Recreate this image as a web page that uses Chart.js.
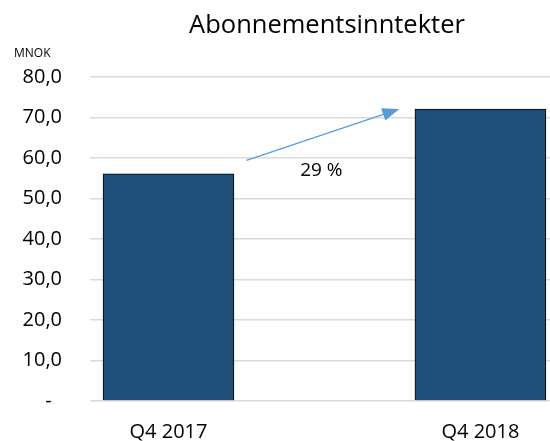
<!DOCTYPE html>
<html>
<head>
<meta charset="utf-8">
<script src="https://cdn.jsdelivr.net/npm/chart.js@4.4.1/dist/chart.umd.min.js"></script>
<style>
  body { margin: 0; background: #fff; }
  #grafico { display: block; }
</style>
</head>
<body>
<canvas id="grafico" width="550" height="441"></canvas>
<script>
// data
const categorias = ['Q4 2017', 'Q4 2018']
const valores = [56.1, 72.1]
const ticksY = [0, 10, 20, 30, 40, 50, 60, 70, 80]
const titulo = 'Abonnementsinntekter'
const unidad = 'MNOK'

const fuente = "'Open Sans', 'Noto Sans', sans-serif"

// titulo, unidad, flecha y % de crecimiento
const extras = {
    id: 'extras',
    afterDatasetsDraw: (chart) => {
        const { ctx, scales: { x, y } } = chart
        ctx.save()

        // flecha entre las barras
        const x1 = x.getPixelForValue(0.25), y1 = y.getPixelForValue(59.4)
        const x2 = x.getPixelForValue(0.74), y2 = y.getPixelForValue(valores[1])
        const ang = Math.atan2(y2 - y1, x2 - x1)
        ctx.strokeStyle = '#5B9BD5'
        ctx.fillStyle = '#5B9BD5'
        ctx.lineWidth = 1.2
        ctx.beginPath()
        ctx.moveTo(x1, y1)
        ctx.lineTo(x2 - 12 * Math.cos(ang), y2 - 12 * Math.sin(ang))
        ctx.stroke()
        ctx.beginPath()
        ctx.moveTo(x2, y2)
        ctx.lineTo(x2 - 17 * Math.cos(ang) + 6.5 * Math.sin(ang), y2 - 17 * Math.sin(ang) - 6.5 * Math.cos(ang))
        ctx.lineTo(x2 - 17 * Math.cos(ang) - 6.5 * Math.sin(ang), y2 - 17 * Math.sin(ang) + 6.5 * Math.cos(ang))
        ctx.closePath()
        ctx.fill()

        // porcentaje
        const pct = Math.round((valores[1] / valores[0] - 1) * 100)
        ctx.fillStyle = '#000'
        ctx.font = `19px ${fuente}`
        ctx.textAlign = 'center'
        ctx.textBaseline = 'middle'
        ctx.fillText(`${pct} %`, x.getPixelForValue(0.49), y.getPixelForValue(56.8))

        // titulo
        ctx.font = `25.5px ${fuente}`
        ctx.textBaseline = 'alphabetic'
        ctx.fillText(titulo, 327, 33)

        // unidad
        ctx.font = `12px ${fuente}`
        ctx.textAlign = 'left'
        ctx.fillText(unidad, 14, 57)
        ctx.restore()
    }
}

const config = {
    type: 'bar',
    data: {
        datasets: [{
            data: valores.map((v, i) => ({ x: i, y: v })),
            backgroundColor: '#1F4E79',
            borderColor: '#000',
            borderWidth: 1,
            barThickness: 131
        }]
    },
    options: {
        responsive: false,
        animation: false,
        layout: { padding: { top: 77, right: 0 } },
        plugins: {
            legend: { display: false },
            tooltip: { enabled: false }
        },
        scales: {
            x: {
                type: 'linear',
                offset: false,
                min: -0.2516,
                max: 1.223,
                grid: { display: false, offset: false },
                border: { display: false },
                afterBuildTicks: (scale) => { scale.ticks = categorias.map((c, i) => ({ value: i })) },
                afterFit: (scale) => { scale.height = 39.5 },
                ticks: {
                    autoSkip: false,
                    maxRotation: 0,
                    padding: 11,
                    color: '#000',
                    font: { family: fuente, size: 20 },
                    callback: (v) => categorias[v]
                }
            },
            y: {
                min: ticksY[0],
                max: ticksY[ticksY.length - 1],
                afterBuildTicks: (scale) => { scale.ticks = ticksY.map((v) => ({ value: v })) },
                afterFit: (scale) => { scale.width = 90 },
                grid: { color: '#D9D9D9', lineWidth: 1.5, drawTicks: false },
                border: { display: false },
                ticks: {
                    padding: 28,
                    color: '#000',
                    font: { family: fuente, size: 20 },
                    callback: (v) => v === 0 ? '-  ' : v.toFixed(1).replace('.', ',')
                }
            }
        }
    },
    plugins: [extras]
}

const chartjs = new Chart(document.getElementById('grafico'), config)
</script>
</body>
</html>
